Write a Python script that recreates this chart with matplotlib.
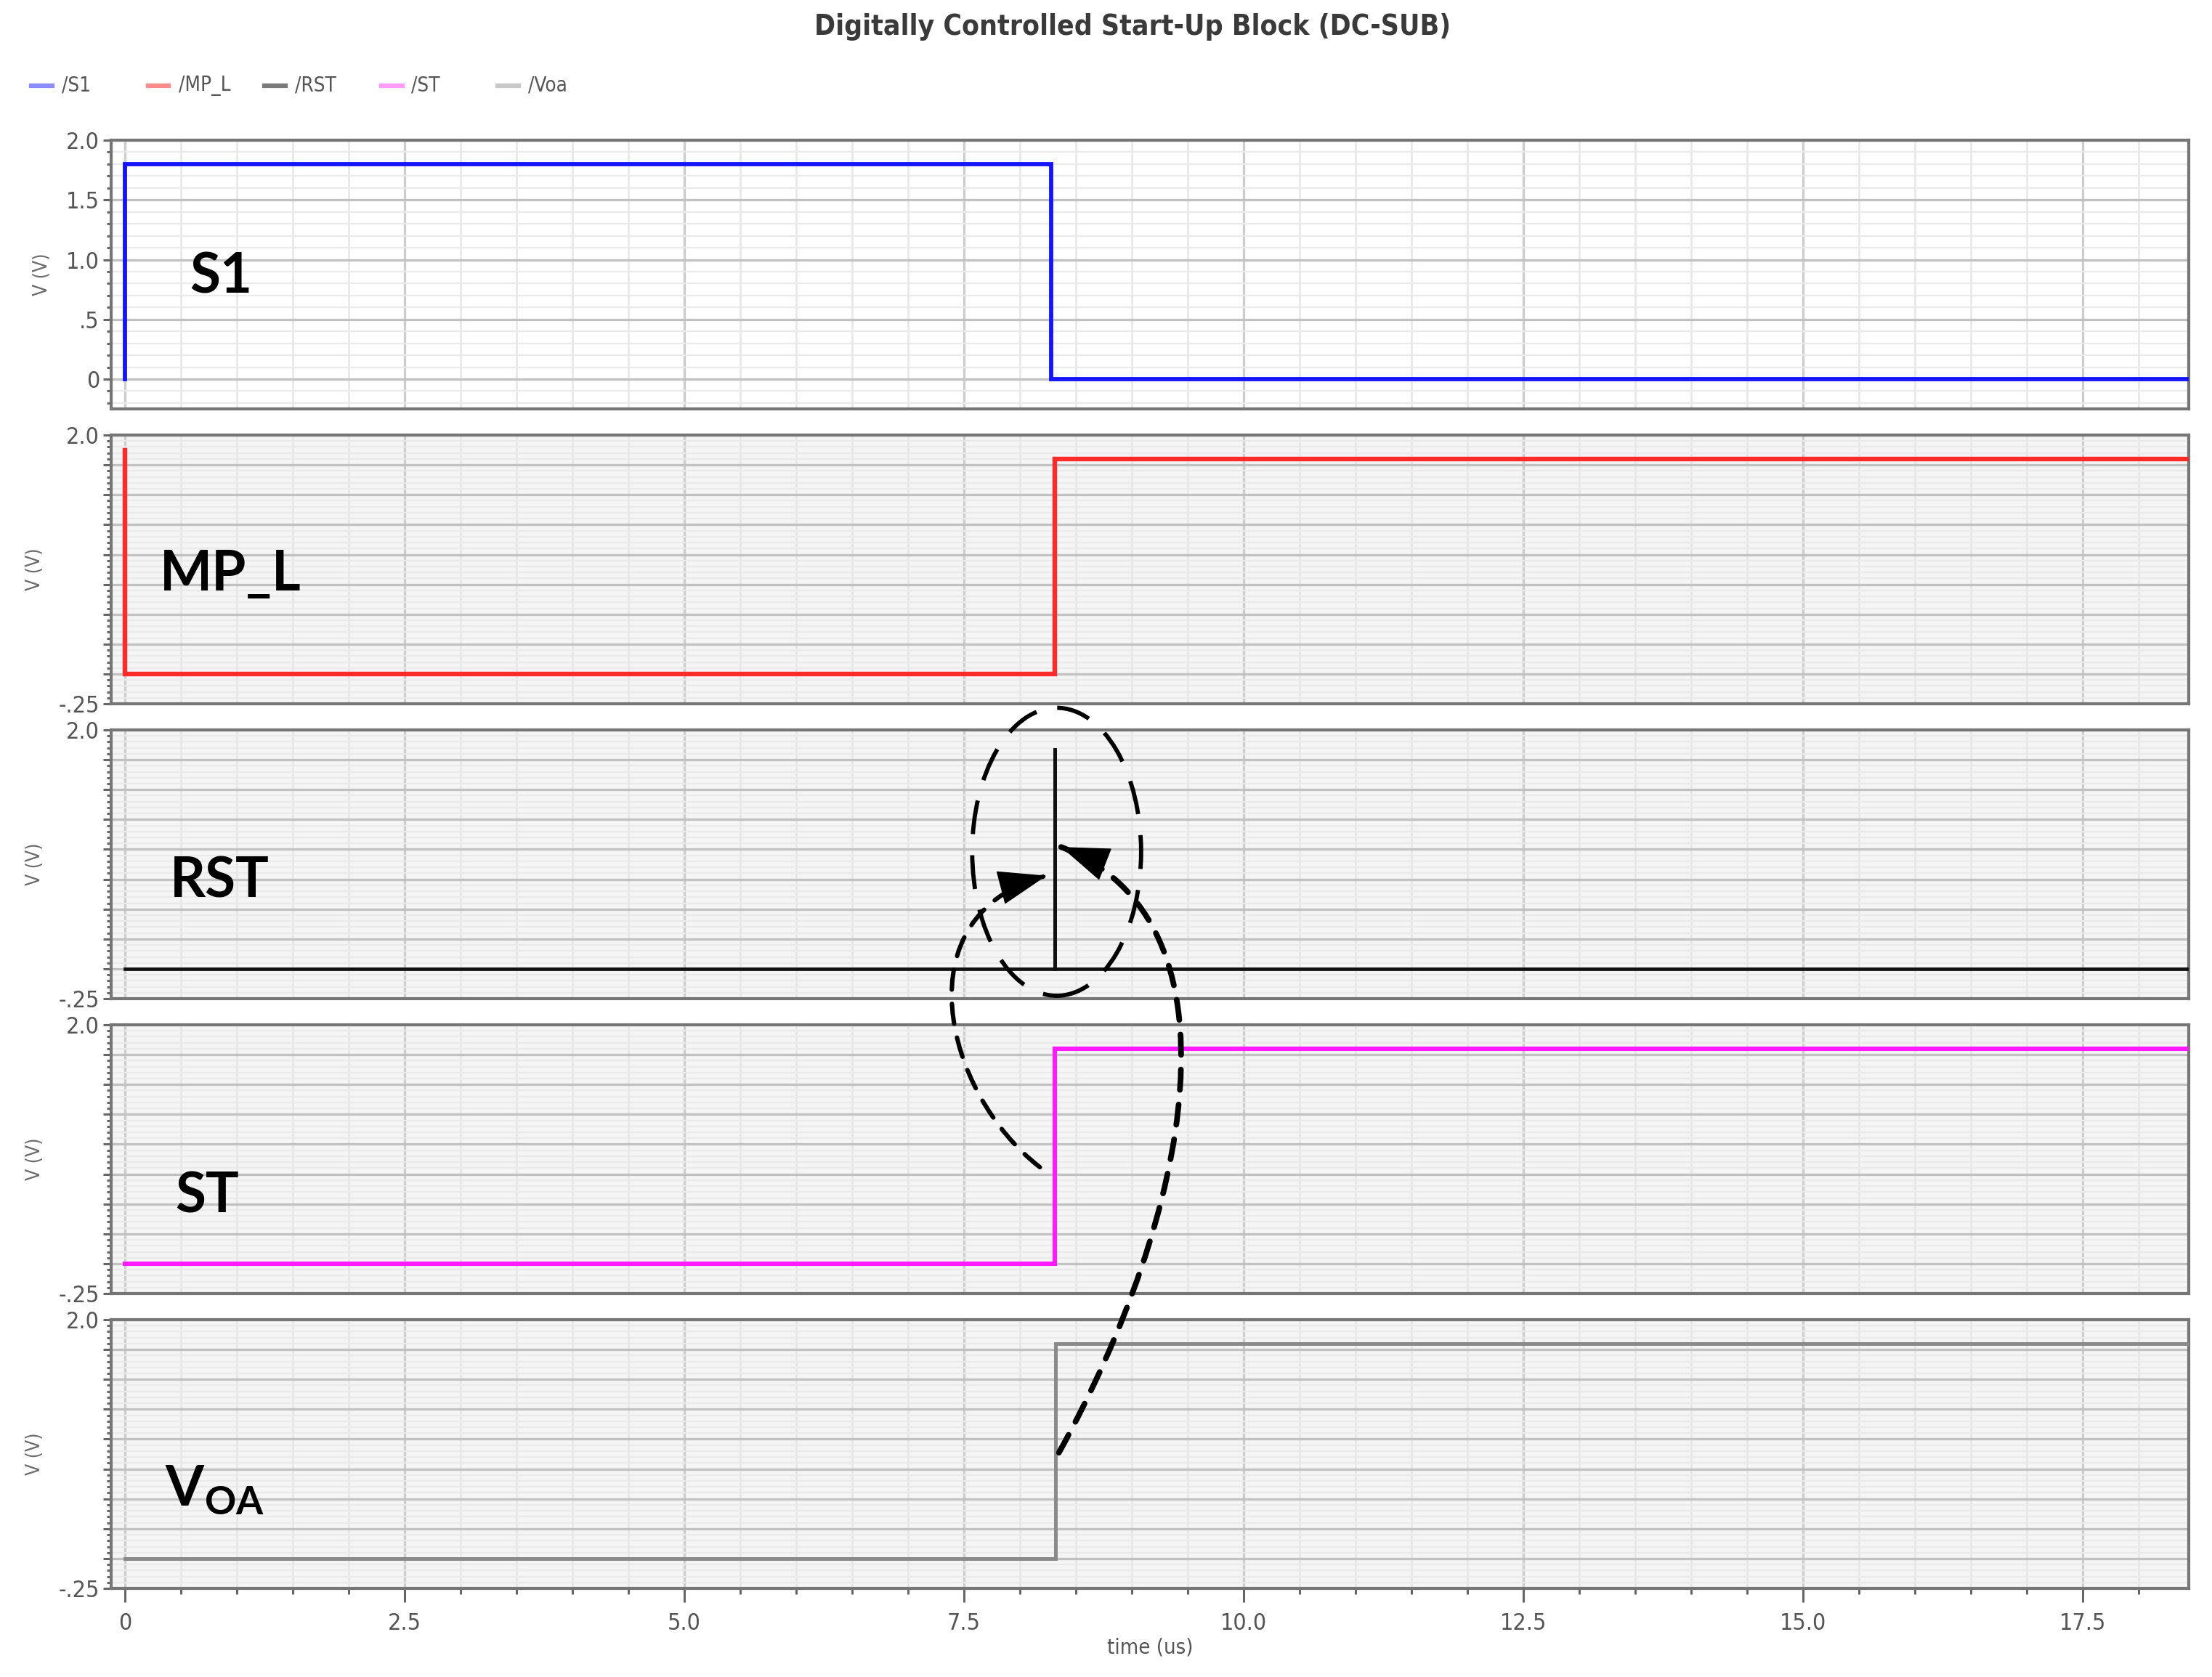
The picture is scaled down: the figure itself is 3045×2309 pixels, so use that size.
import numpy as np
import matplotlib.pyplot as plt
from matplotlib.patches import Ellipse, PathPatch, FancyArrowPatch
from matplotlib.path import Path
from matplotlib.lines import Line2D
from matplotlib.ticker import MultipleLocator, FuncFormatter

plt.rcParams["mathtext.fontset"] = "custom"
plt.rcParams["mathtext.bf"] = "Lato:bold"
plt.rcParams["mathtext.rm"] = "Lato"

NARROW = ["Liberation Sans Narrow", "DejaVu Sans"]

title = "Digitally Controlled Start-Up Block (DC-SUB)"
names = ["/S1", "/MP_L", "/RST", "/ST", "/Voa"]
tags = ["S1", "MP_L", "RST", "ST", r"$\mathbf{V}_{\mathbf{OA}}$"]
colors = ["#1414ff", "#ff2b2b", "#111111", "#ff1aff", "#8a8a8a"]
legend_colors = ["#8c8cff", "#ff8c8c", "#7a7a7a", "#ff9cff", "#c8c8c8"]

# waveforms (time in us, voltage in V)
t_s1 = [0.0, 0.0, 8.28, 8.28, 18.5]
v_s1 = [0.0, 1.8, 1.8, 0.0, 0.0]
t_mpl = [0.0, 0.0, 8.31, 8.31, 18.5]
v_mpl = [1.87, 0.0, 0.0, 1.8, 1.8]
t_rst = [0.0, 8.31, 8.31, 8.31, 18.5]
v_rst = [0.0, 0.0, 1.85, 0.0, 0.0]
t_st = [0.0, 8.31, 8.31, 18.5]
v_st = [0.0, 0.0, 1.8, 1.8]
t_voa = [0.0, 8.32, 8.32, 18.5]
v_voa = [0.0, 0.0, 1.8, 1.8]

times = [t_s1, t_mpl, t_rst, t_st, t_voa]
volts = [v_s1, v_mpl, v_rst, v_st, v_voa]
widths = [4.2, 4.6, 3.4, 4.4, 3.6]

# tag label positions (data coords: left edge, baseline)
tag_x = [0.58, 0.31, 0.40, 0.45, 0.36]
tag_y = [0.72, 0.70, 0.60, 0.43, 0.45]

x_ticks = [0, 2.5, 5.0, 7.5, 10.0, 12.5, 15.0, 17.5]

fig, axes = plt.subplots(5, 1, figsize=(30.45, 23.09), dpi=100, sharex=True,
                         gridspec_kw=dict(hspace=0.097))
fig.subplots_adjust(left=0.0502, right=0.9895, top=0.9164, bottom=0.0528)

for i, ax in enumerate(axes):
    ax.set_facecolor("#ffffff" if i == 0 else "#f5f5f5")
    ax.plot(times[i], volts[i], color=colors[i], lw=widths[i],
            solid_joinstyle="miter", zorder=3)
    ax.set_xlim(-0.123, 18.45)
    ax.set_ylim(-0.25, 2.0)

    ax.xaxis.set_major_locator(MultipleLocator(2.5))
    ax.xaxis.set_minor_locator(MultipleLocator(0.5))
    if i == 0:
        ax.yaxis.set_major_locator(MultipleLocator(0.5))
        ax.yaxis.set_minor_locator(MultipleLocator(0.1))
        ax.yaxis.set_major_formatter(FuncFormatter(
            lambda v, p: "" if v < 0 else ("0" if v == 0 else (".5" if v == 0.5 else f"{v:.1f}"))))
    else:
        ax.yaxis.set_major_locator(MultipleLocator(0.25))
        ax.yaxis.set_minor_locator(MultipleLocator(0.05))
        ax.yaxis.set_major_formatter(FuncFormatter(
            lambda v, p: "2.0" if abs(v - 2.0) < 1e-6 else ("-.25" if abs(v + 0.25) < 1e-6 else "")))

    ax.grid(True, which="major", axis="y", color="#c2c2c2", lw=2.4, zorder=1)
    ax.grid(True, which="minor", axis="y", color="#eaeaea", lw=1.6, zorder=1)
    ax.grid(True, which="major", axis="x", color="#cdcdcd", lw=2.4, zorder=1)
    ax.grid(True, which="minor", axis="x", color="#e6e6e6", lw=1.8, zorder=1)
    ax.set_axisbelow(True)

    for s in ax.spines.values():
        s.set_color("#767676")
        s.set_linewidth(3.0)
    ax.tick_params(which="major", length=8, width=2.2, color="#666666",
                   labelsize=23, labelcolor="#555555")
    ax.tick_params(which="minor", length=4, width=2.2, color="#666666")
    if i < 4:
        ax.tick_params(axis="x", which="both", length=0)
    for lab in ax.get_yticklabels():
        lab.set_family(NARROW)
        lab.set_stretch("condensed")

    ax.set_ylabel("V (V)", fontsize=19, color="#6a6a6a", family=NARROW,
                  fontstretch="condensed", labelpad=14)

    ax.text(tag_x[i], tag_y[i], tags[i], fontsize=55, fontweight="bold",
            family=["Lato", "DejaVu Sans"], color="black", ha="left",
            va="baseline", zorder=6)

axes[-1].xaxis.set_major_formatter(FuncFormatter(
    lambda v, p: "0" if v == 0 else f"{v:.1f}"))
axes[-1].set_xticks(x_ticks)
for lab in axes[-1].get_xticklabels():
    lab.set_family(NARROW)
    lab.set_stretch("condensed")
axes[-1].tick_params(axis="x", which="major", length=14, pad=10)
axes[-1].tick_params(axis="x", which="minor", length=6)
axes[-1].set_xlabel("time (us)", fontsize=21, color="#555555", family=NARROW,
                    fontstretch="condensed", labelpad=2)

fig.text(0.512, 0.984, title, ha="center", va="center", fontsize=28,
         fontweight="bold", fontstretch="condensed", color="#3a3a3a",
         family=NARROW)

# legend row
for k, (nm, c) in enumerate(zip(names, legend_colors)):
    x0 = (43 + k * 160.5) / 3045
    fig.add_artist(Line2D([x0, x0 + 29 / 3045], [0.9489, 0.9489], color=c, lw=4.5,
                          transform=fig.transFigure))
    fig.text(x0 + 42 / 3045, 0.9489, nm, fontsize=20, color="#555555",
             family=NARROW, fontstretch="condensed", ha="left", va="center")

# annotation: dashed ellipse around RST pulse and curved arrows
ax3 = axes[2]
ell = Ellipse((8.33, 0.98), 1.51, 2.41, fill=False, ec="black", lw=4.2,
              ls=(0, (8, 5)), transform=ax3.transData, zorder=10)
fig.add_artist(ell)

arrows = [
    ([(8.18, -1.66), (7.32, -1.04), (6.93, 0.46), (8.24, 0.78)], 4.4, (4.5, 3.2)),
    ([(8.35, -4.05), (9.52, -2.07), (10.06, 0.40), (8.37, 1.02)], 5.6, (3.6, 2.6)),
]
for pts, lw, dash in arrows:
    path = Path(pts, [Path.MOVETO, Path.CURVE4, Path.CURVE4, Path.CURVE4])
    fig.add_artist(PathPatch(path, fill=False, ec="black", lw=lw,
                             ls=(0, dash), capstyle="round",
                             transform=ax3.transData, zorder=10))
    p2, p3 = np.array(pts[2]), np.array(pts[3])
    pa = p3 - 0.05 * (p3 - p2)
    fig.add_artist(FancyArrowPatch(posA=tuple(pa), posB=tuple(p3),
                                   arrowstyle="-|>,head_length=0.45,head_width=0.16",
                                   mutation_scale=100, color="black", lw=1,
                                   shrinkA=0, shrinkB=0,
                                   transform=ax3.transData, zorder=11))

fig.savefig("out.png", dpi=100)
